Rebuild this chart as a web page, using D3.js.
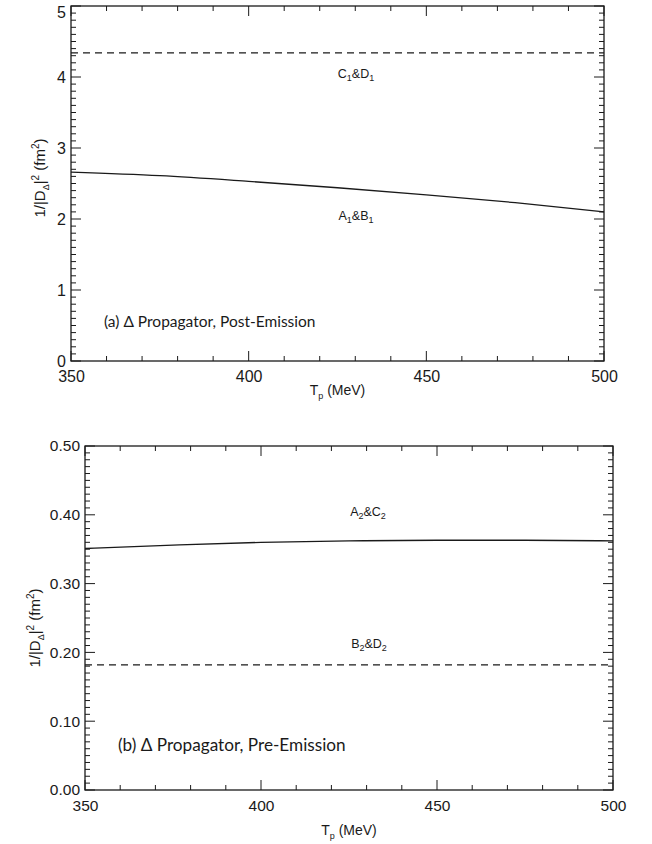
<!DOCTYPE html>
<html>
<head>
<meta charset="utf-8">
<script src="https://cdn.jsdelivr.net/npm/d3@7"></script>
<style>
  html, body { margin: 0; padding: 0; background: #fff; }
  svg { display: block; }
</style>
</head>
<body>
<svg id="chart" width="652" height="844"></svg>
<script>
// ---- data ----
const tp = [350, 375, 400, 425, 450, 475, 500];
// panel (a): post-emission
const solidA = [2.66, 2.61, 2.53, 2.44, 2.34, 2.23, 2.10];   // A1&B1
const dashedA = [4.34, 4.34, 4.34, 4.34, 4.34, 4.34, 4.34];  // C1&D1
// panel (b): pre-emission
const solidB = [0.351, 0.356, 0.360, 0.362, 0.363, 0.363, 0.362]; // A2&C2
const dashedB = [0.182, 0.182, 0.182, 0.182, 0.182, 0.182, 0.182]; // B2&D2
const xTicks = [350, 400, 450, 500];
const yTicksA = [0, 1, 2, 3, 4, 5];
const yTicksB = [0.0, 0.1, 0.2, 0.3, 0.4, 0.5];

const svg = d3.select("#chart");
const tickFont = "'Liberation Sans', Arial, sans-serif";
const titleFont = "Lato, 'Open Sans', sans-serif";
const ink = "#1a1a1a";

const panels = [
  { x0: 71, x1: 604, y0: 6, y1: 361, yDomain: [0, 5], yTicks: yTicksA, yMinor: 0.1, yFmt: d3.format("d"),
    solid: solidA, dashed: dashedA, solidLab: ["A", "1", "&B", "1"], dashedLab: ["C", "1", "&D", "1"],
    solidLabPos: [356, 220], dashedLabPos: [356, 78], tickSize: 16,
    title: "(a) Δ Propagator, Post-Emission", titlePos: [104, 327], titleSize: 15.5,
    yLabX: 45, yLabY: 178, xLabY: 395 },
  { x0: 85, x1: 613, y0: 446, y1: 790, yDomain: [0, 0.5], yTicks: yTicksB, yMinor: 0.01, yFmt: d3.format(".2f"),
    solid: solidB, dashed: dashedB, solidLab: ["A", "2", "&C", "2"], dashedLab: ["B", "2", "&D", "2"],
    solidLabPos: [368, 516], dashedLabPos: [369, 648], tickSize: 15.5,
    title: "(b) Δ Propagator, Pre-Emission", titlePos: [118, 751], titleSize: 17.2,
    yLabX: 40, yLabY: 628, xLabY: 835 }
];

panels.forEach(p => {
  const x = d3.scaleLinear().domain([350, 500]).range([p.x0, p.x1]);
  const y = d3.scaleLinear().domain(p.yDomain).range([p.y1, p.y0]);
  const g = svg.append("g");

  // minor / major ticks (inward on all four sides)
  const xMinor = d3.range(350, 500.001, 10);
  const yMinorVals = d3.range(p.yDomain[0], p.yDomain[1] + p.yMinor / 2, p.yMinor);
  const isMajorX = v => Math.abs(v % 50) < 1e-6;
  const isMajorY = v => p.yTicks.some(t => Math.abs(t - v) < p.yMinor / 10);

  const tg = g.append("g").attr("stroke", ink).attr("stroke-width", 1);
  xMinor.forEach(v => {
    const len = isMajorX(v) ? 10 : 5;
    tg.append("line").attr("x1", x(v)).attr("x2", x(v)).attr("y1", p.y1).attr("y2", p.y1 - len);
    tg.append("line").attr("x1", x(v)).attr("x2", x(v)).attr("y1", p.y0).attr("y2", p.y0 + len);
  });
  yMinorVals.forEach(v => {
    const len = isMajorY(v) ? 10 : 5;
    tg.append("line").attr("x1", p.x0).attr("x2", p.x0 + len).attr("y1", y(v)).attr("y2", y(v));
    tg.append("line").attr("x1", p.x1).attr("x2", p.x1 - len).attr("y1", y(v)).attr("y2", y(v));
  });

  // axes with D3 axis generators for tick labels
  const xAxis = d3.axisBottom(x).tickValues(xTicks).tickSize(0).tickPadding(10).tickFormat(d3.format("d"));
  const xg = g.append("g").attr("transform", `translate(0,${p.y1})`).call(xAxis);
  const yAxis = d3.axisLeft(y).tickValues(p.yTicks).tickSize(0).tickPadding(5).tickFormat(p.yFmt);
  const yg = g.append("g").attr("transform", `translate(${p.x0},0)`).call(yAxis);
  [xg, yg].forEach(a => {
    a.select(".domain").remove();
    a.selectAll("text").attr("font-family", tickFont).attr("font-size", p.tickSize).attr("fill", ink);
  });
  // keep the top y label inside the picture
  if (p.y0 < 12) yg.selectAll(".tick text").filter(d => d === p.yDomain[1]).attr("dy", "0.7em");

  // frame
  g.append("rect").attr("x", p.x0).attr("y", p.y0).attr("width", p.x1 - p.x0).attr("height", p.y1 - p.y0)
    .attr("fill", "none").attr("stroke", ink).attr("stroke-width", 1.3);

  // data lines
  const line = d3.line().x((d, i) => x(tp[i])).y(d => y(d)).curve(d3.curveMonotoneX);
  g.append("path").datum(p.solid).attr("d", line).attr("fill", "none").attr("stroke", ink).attr("stroke-width", 1.3);
  g.append("path").datum(p.dashed).attr("d", line).attr("fill", "none").attr("stroke", ink).attr("stroke-width", 1.2)
    .attr("stroke-dasharray", "7,5");

  // curve labels with subscripts
  function subLabel(parts, pos) {
    const t = g.append("text").attr("x", pos[0]).attr("y", pos[1]).attr("text-anchor", "middle")
      .attr("font-family", tickFont).attr("font-size", 12.5).attr("fill", ink);
    parts.forEach((s, i) => {
      if (i % 2 === 0) t.append("tspan").attr("dy", i > 0 ? -3 : 0).text(s);
      else t.append("tspan").attr("font-size", 9).attr("dy", 3).text(s);
    });
  }
  subLabel(p.solidLab, p.solidLabPos);
  subLabel(p.dashedLab, p.dashedLabPos);

  // panel title
  g.append("text").attr("x", p.titlePos[0]).attr("y", p.titlePos[1])
    .attr("font-family", titleFont).attr("font-size", p.titleSize).attr("fill", ink)
    .text(p.title);

  // x label
  const xl = g.append("text").attr("x", (p.x0 + p.x1) / 2).attr("y", p.xLabY).attr("text-anchor", "middle")
    .attr("font-family", tickFont).attr("font-size", 14).attr("fill", ink);
  xl.append("tspan").text("T");
  xl.append("tspan").attr("font-size", 9).attr("dy", 4).text("p");
  xl.append("tspan").attr("dy", -4).text(" (MeV)");

  // y label
  const yl = g.append("text").attr("transform", `translate(${p.yLabX},${p.yLabY}) rotate(-90)`)
    .attr("text-anchor", "middle").attr("font-family", tickFont).attr("font-size", 15).attr("fill", ink);
  yl.append("tspan").text("1/|D");
  yl.append("tspan").attr("font-size", 9).attr("dy", 4).text("Δ");
  yl.append("tspan").attr("dy", -4).text("|");
  yl.append("tspan").attr("font-size", 10).attr("dy", -6).text("2");
  yl.append("tspan").attr("dy", 6).text(" (fm");
  yl.append("tspan").attr("font-size", 10).attr("dy", -6).text("2");
  yl.append("tspan").attr("dy", 6).text(")");
});
</script>
</body>
</html>
